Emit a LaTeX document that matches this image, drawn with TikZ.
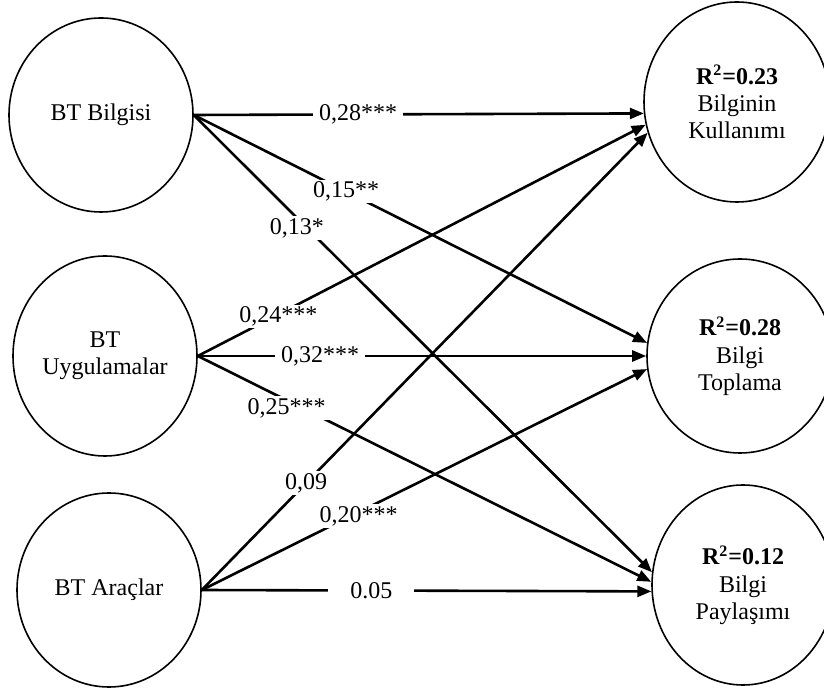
\documentclass[tikz,border=0pt]{standalone}
\usepackage{fontspec}
\setmainfont{Liberation Serif}
\usetikzlibrary{shapes.geometric, arrows.meta, positioning}
\tikzstyle{latent} = [ellipse, draw=black, line width=0.8pt, minimum width=92pt, minimum height=97pt, inner sep=0pt, align=center, font=\fontsize{12}{13.6}\selectfont]
\tikzstyle{coef} = [fill=white, inner xsep=3pt, inner ysep=1pt, font=\fontsize{12}{13.6}\selectfont]
\tikzstyle{arrow} = [line width=1.3pt, -{Triangle[length=7pt,width=5.5pt]}]

\begin{document}
\begin{tikzpicture}[x=0.5pt, y=-0.5pt]
\useasboundingbox (0,0) rectangle (824,688);

% Predictors
\node (bilgisi) [latent] at (101,115) {BT Bilgisi};
\node (uygulama) [latent, minimum height=100pt] at (105,356) {BT\\Uygulamalar};
\node (araclar) [latent] at (109,590) {BT Araçlar};

% Outcomes
\node (kullanim) [latent, minimum width=93pt, minimum height=100pt] at (737,102) {\textbf{R\textsuperscript{2}=0.23}\\Bilginin\\Kullanımı};
\node (toplama) [latent, minimum width=93pt] at (740,356) {\textbf{R\textsuperscript{2}=0.28}\\Bilgi\\Toplama};
\node (paylasim) [latent, minimum width=91pt, minimum height=100pt] at (743,585) {\textbf{R\textsuperscript{2}=0.12}\\Bilgi\\Paylaşımı};

% Paths from BT Bilgisi
\draw [arrow] (bilgisi.east) -- node[coef, pos=0.365] {0,28***} (kullanim.187);
\draw [arrow] (bilgisi.east) -- node[coef, pos=0.336] {0,15**} (toplama.172);
\draw [arrow] (bilgisi.east) -- node[coef, pos=0.225, yshift=-5pt] {0,13*} (paylasim.172);

% Paths from BT Uygulamalar
\draw [arrow] (uygulama.east) -- node[coef, pos=0.18, yshift=-1pt] {0,24***} (kullanim.194);
\draw [arrow] (uygulama.east) -- node[coef, pos=0.273] {0,32***} (toplama.180);
\draw [arrow] (uygulama.east) -- node[coef, pos=0.196, yshift=-4pt] {0,25***} (paylasim.178);

% Paths from BT Araclar
\draw [arrow] (araclar.east) -- node[coef, pos=0.234] {0,09} (kullanim.199);
\draw [arrow] (araclar.east) -- node[coef, pos=0.352, yshift=-2pt] {0,20***} (toplama.188);
\draw [arrow] (araclar.east) -- node[coef, pos=0.377, inner xsep=11pt] {0.05} (paylasim.184);

\end{tikzpicture}
\end{document}
